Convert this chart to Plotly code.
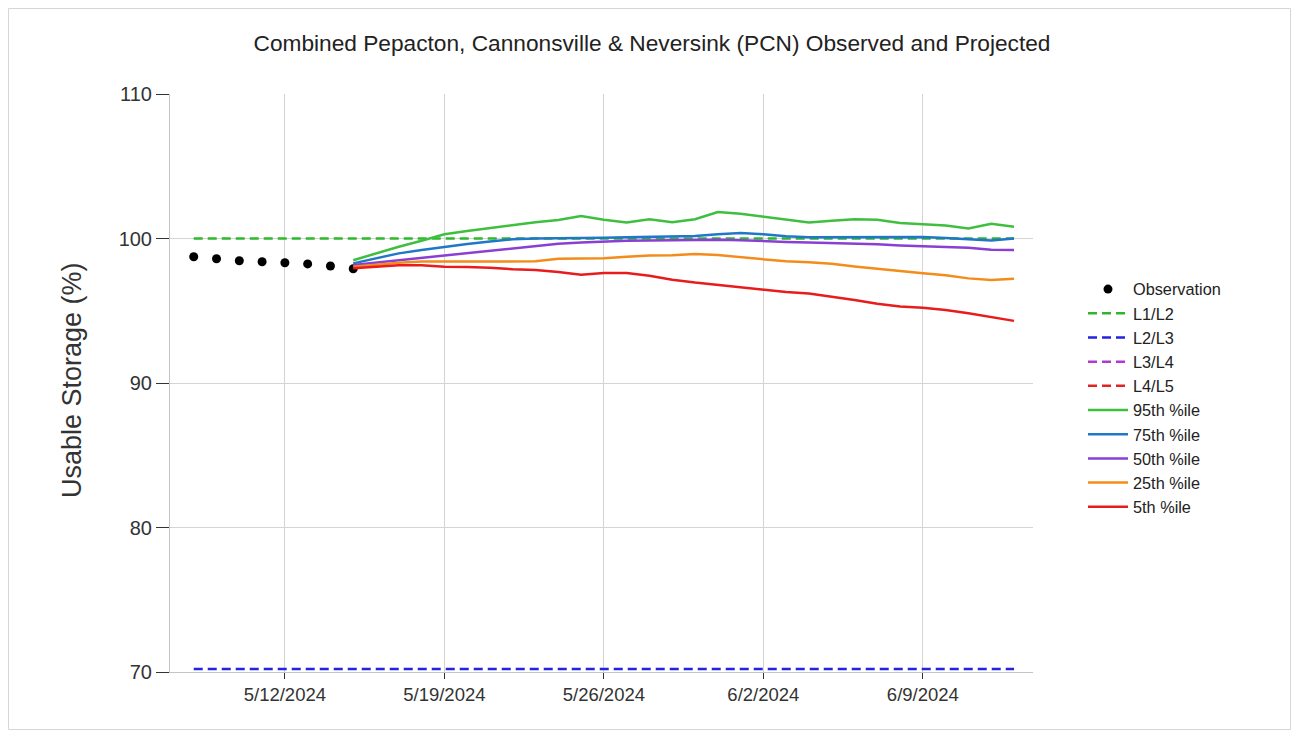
import plotly.graph_objects as go
import pandas as pd

# ---------------- data ----------------
obs_dates = pd.date_range("2024-05-08", "2024-05-15", freq="D")
obs_values = [98.74, 98.60, 98.46, 98.39, 98.32, 98.24, 98.10, 97.91]

proj_dates = pd.date_range("2024-05-15", "2024-06-13", freq="D")
p95 = [98.50, 98.97, 99.43, 99.85, 100.29, 100.52, 100.73, 100.93, 101.12, 101.28,
       101.56, 101.30, 101.10, 101.33, 101.12, 101.33, 101.83, 101.72, 101.51, 101.30,
       101.11, 101.22, 101.34, 101.30, 101.07, 100.98, 100.90, 100.70, 101.02, 100.82]
p75 = [98.28, 98.63, 98.97, 99.20, 99.43, 99.62, 99.80, 99.94, 100.00, 100.00,
       100.02, 100.05, 100.08, 100.12, 100.15, 100.17, 100.30, 100.38, 100.30, 100.15,
       100.08, 100.08, 100.08, 100.10, 100.12, 100.10, 100.03, 99.94, 99.86, 100.00]
p50 = [98.17, 98.33, 98.49, 98.63, 98.79, 98.97, 99.16, 99.32, 99.48, 99.64,
       99.72, 99.80, 99.85, 99.87, 99.90, 99.92, 99.92, 99.88, 99.80, 99.76,
       99.73, 99.70, 99.64, 99.60, 99.52, 99.48, 99.43, 99.36, 99.22, 99.20]
p25 = [98.05, 98.21, 98.33, 98.40, 98.40, 98.40, 98.37, 98.37, 98.42, 98.60,
       98.62, 98.63, 98.74, 98.83, 98.84, 98.93, 98.85, 98.72, 98.55, 98.42,
       98.36, 98.25, 98.07, 97.90, 97.78, 97.60, 97.45, 97.24, 97.13, 97.22]
p5 = [97.94, 98.05, 98.15, 98.15, 98.05, 98.03, 97.98, 97.87, 97.82, 97.68,
      97.50, 97.62, 97.62, 97.42, 97.15, 96.95, 96.78, 96.62, 96.48, 96.30,
      96.20, 96.00, 95.75, 95.48, 95.30, 95.20, 95.05, 94.82, 94.58, 94.30]

level_dates = ["2024-05-08", "2024-06-13"]
l1_l2 = [100.0, 100.0]
l2_l3 = [70.2, 70.2]
l3_l4 = [60.0, 60.0]   # below the visible range
l4_l5 = [50.0, 50.0]   # below the visible range

tick_dates = ["2024-05-12", "2024-05-19", "2024-05-26", "2024-06-02", "2024-06-09"]
tick_labels = ["5/12/2024", "5/19/2024", "5/26/2024", "6/2/2024", "6/9/2024"]
y_ticks = [70, 80, 90, 100, 110]

# ---------------- figure ----------------
FONT = "Arial, 'Liberation Sans', sans-serif"
W, H = 1283, 722
ML, MR, MT, MB = 162, 258, 86, 58
PW, PH = W - ML - MR, H - MT - MB

fig = go.Figure()

fig.add_trace(go.Scatter(x=obs_dates, y=obs_values, mode="markers", name="Observation",
                         marker=dict(color="black", size=9)))

dash = "9px,5px"
for name, vals, col in [("L1/L2", l1_l2, "#2cb82c"), ("L2/L3", l2_l3, "#2323e0"),
                        ("L3/L4", l3_l4, "#b336d6"), ("L4/L5", l4_l5, "#e02424")]:
    fig.add_trace(go.Scatter(x=level_dates, y=vals, mode="lines", name=name,
                             line=dict(color=col, width=2.5, dash=dash)))

for name, vals, col in [("95th %ile", p95, "#3fbf3f"), ("75th %ile", p75, "#2077c8"),
                        ("50th %ile", p50, "#8a3fd4"), ("25th %ile", p25, "#f28c1a"),
                        ("5th %ile", p5, "#e81c1c")]:
    fig.add_trace(go.Scatter(x=proj_dates, y=vals, mode="lines", name=name,
                             line=dict(color=col, width=2.5)))

fig.update_layout(
    width=W, height=H,
    margin=dict(l=ML, r=MR, t=MT, b=MB),
    paper_bgcolor="white", plot_bgcolor="white",
    font=dict(family=FONT, color="#222"),
    title=dict(text="Combined Pepacton, Cannonsville &amp; Neversink (PCN) Observed and Projected",
               x=(652 - 8) / W, xref="container", xanchor="center",
               y=1 - 35 / H, yref="container", yanchor="middle",
               font=dict(size=22.7, color="#222")),
    showlegend=True,
    legend=dict(x=(1083 - 170) / PW, y=1 - (272 - 94) / PH, xanchor="left", yanchor="top",
                font=dict(size=16.3, color="#222"), tracegroupgap=0,
                bgcolor="rgba(0,0,0,0)", itemwidth=40),
    xaxis=dict(type="date", range=["2024-05-06 23:00", "2024-06-13 20:00"],
               tickvals=tick_dates, ticktext=tick_labels,
               ticks="outside", ticklen=6, tickcolor="#333",
               tickfont=dict(size=18.5, color="#333"),
               showgrid=True, gridcolor="#d4d4d4", gridwidth=1,
               showline=True, linecolor="#c4c4c4", zeroline=False),
    yaxis=dict(range=[70, 110], tickvals=y_ticks,
               ticks="outside", ticklen=13, tickcolor="#333",
               tickfont=dict(size=20, color="#333"),
               showgrid=True, gridcolor="#d4d4d4", gridwidth=1,
               showline=True, linecolor="#c4c4c4", zeroline=False),
)

fig.add_annotation(text="Usable Storage (%)", xref="paper", yref="paper",
                   x=(72 - 170) / PW, y=1 - (380 - 94) / PH, textangle=-90, showarrow=False,
                   xanchor="center", yanchor="middle",
                   font=dict(size=27, color="#333", family=FONT))

# thin frame around the whole figure
fig.add_shape(type="rect", xref="paper", yref="paper",
              x0=(-ML + 0.5) / PW, x1=(W - ML - 0.5) / PW,
              y0=(-MB + 0.5) / PH, y1=1 + (MT - 0.5) / PH,
              line=dict(color="#d6d6d6", width=1), layer="below")

fig.write_html("out.html")
